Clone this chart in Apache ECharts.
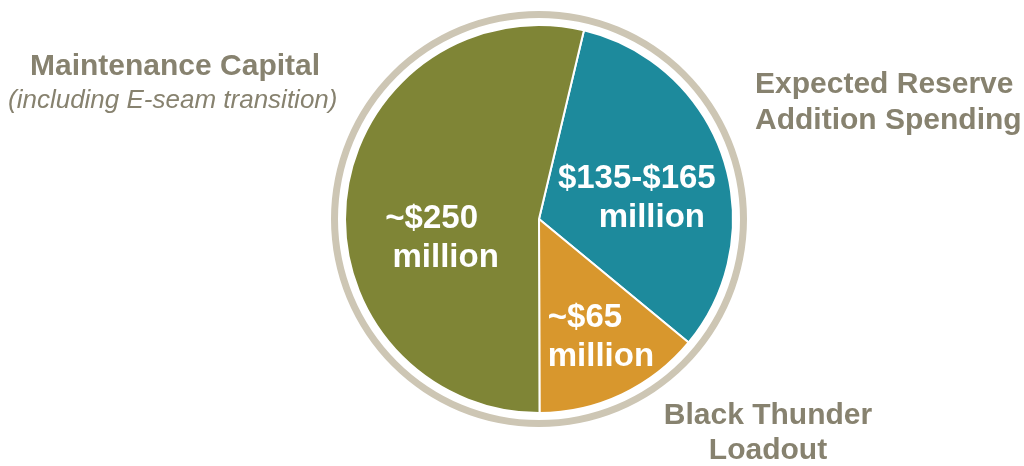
<!DOCTYPE html>
<html>
<head>
<meta charset="utf-8">
<script src="https://cdn.jsdelivr.net/npm/echarts@6/dist/echarts.min.js"></script>
<style>
  html, body { margin: 0; padding: 0; background: #ffffff; }
  #chart { width: 1024px; height: 466px; }
</style>
</head>
<body>
<div id="chart"></div>
<script>
// Capital spending buckets ($ million); the reserve bucket uses the midpoint of its range
const categories = ['Expected Reserve\nAddition Spending', 'Black Thunder\nLoadout', 'Maintenance Capital'];
const values = [150, 65, 250];
const valueLines = [['$135-$165', 'million'], ['~$65', 'million'], ['~$250', 'million']];
const subtitle = '(including E-seam transition)';
const colors = ['#1d8a9c', '#d8972d', '#7f8536'];

const textGrey = '#87826f';
const font = '"Liberation Sans", Arial, sans-serif';

const chart = echarts.init(document.getElementById('chart'), null, { renderer: 'canvas' });

// small nudges so each value label sits where it reads best inside its slice
const labelShift = [[3, 11], [22, 28], [6, 31]];

// per-slice rich styles for the two label lines
const valueFont = { color: '#ffffff', fontFamily: font, fontWeight: 'bold', fontSize: 33, lineHeight: 39 };
const rich = {
  c0: Object.assign({}, valueFont),
  c1: Object.assign({}, valueFont, { padding: [0, 0, 0, 30] }),
  m0: Object.assign({}, valueFont, { padding: [0, 28, 0, 0] }),
  l0: Object.assign({}, valueFont, { width: 112, align: 'left' })
};

chart.setOption({
  animation: false,
  backgroundColor: '#ffffff',
  series: [
    {
      // thin tan ring around the pie
      type: 'pie',
      center: [539, 219],
      radius: [201, 208],
      silent: true,
      label: { show: false },
      labelLine: { show: false },
      itemStyle: { color: '#cdc6b4' },
      data: [{ value: 1, name: 'ring' }]
    },
    {
      type: 'pie',
      center: [539, 219],
      radius: [0, 194],
      startAngle: 76.6,
      clockwise: true,
      silent: true,
      itemStyle: { borderColor: '#ffffff', borderWidth: 2 },
      label: {
        show: true,
        position: 'inside',
        rich: rich,
        formatter: p => {
          const [a, b] = valueLines[p.dataIndex];
          if (p.dataIndex === 0) return '{c0|' + a + '}\n{c1|' + b + '}';
          if (p.dataIndex === 1) return '{l0|' + a + '}\n{l0|' + b + '}';
          return '{m0|' + a + '}\n{c0|' + b + '}';
        }
      },
      labelLayout: p => ({ dx: labelShift[p.dataIndex][0], dy: labelShift[p.dataIndex][1] }),
      data: values.map((v, i) => ({
        value: v,
        name: categories[i],
        itemStyle: { color: colors[i] }
      }))
    }
  ],
  graphic: [
    {
      type: 'text', left: 30, top: 52,
      style: { text: categories[2], fill: textGrey, font: 'bold 30px ' + font }
    },
    {
      type: 'text', left: 8, top: 88,
      style: { text: subtitle, fill: textGrey, font: 'italic 26px ' + font }
    },
    {
      type: 'text', left: 755, top: 67,
      style: { text: categories[0], fill: textGrey, font: 'bold 30px ' + font, lineHeight: 36 }
    },
    {
      type: 'text', x: 768, y: 398,
      style: { text: categories[1], fill: textGrey, font: 'bold 30px ' + font, lineHeight: 35, align: 'center', verticalAlign: 'top' }
    }
  ]
});
</script>
</body>
</html>
